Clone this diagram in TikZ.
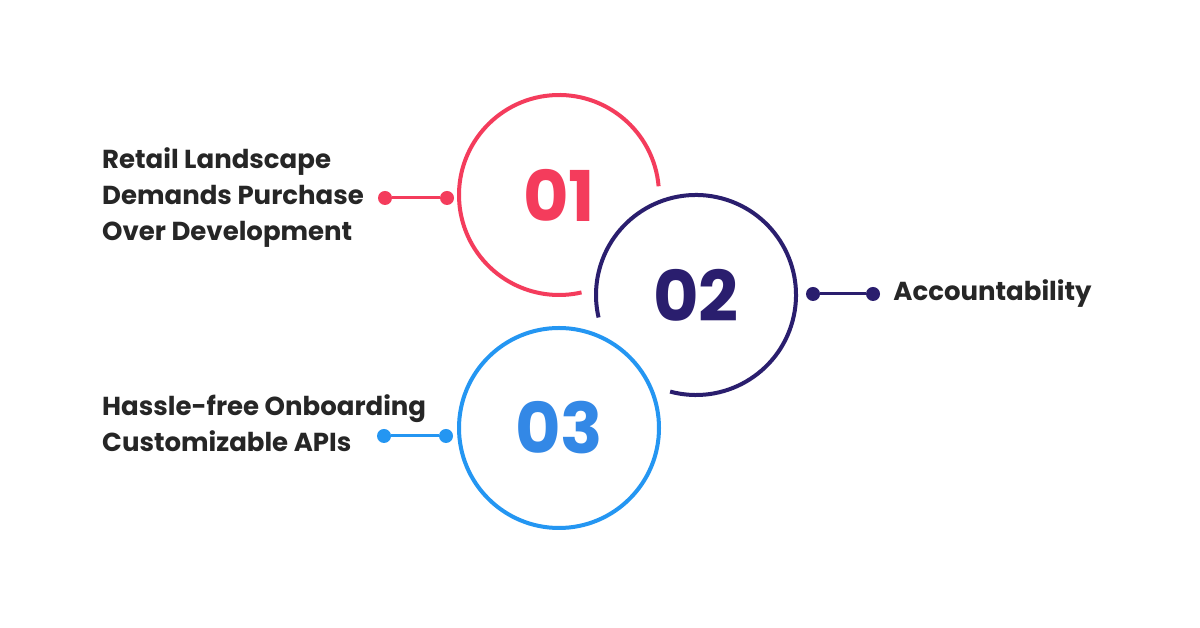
\documentclass[tikz,border=0pt]{standalone}
\usepackage{fontspec}
\setmainfont{Poppins}
\usetikzlibrary{positioning}
\definecolor{retailred}{HTML}{F43C5C}
\definecolor{deepnavy}{HTML}{2A1E6E}
\definecolor{skyblue}{HTML}{2496F2}
\definecolor{numblue}{HTML}{3388E6}
\definecolor{inkgrey}{HTML}{262626}

\tikzset{
  ring/.style={line width=4pt},
  hub/.style={circle, minimum size=200pt, inner sep=0pt, outer sep=0pt},
  bignum/.style={font=\fontsize{70}{70}\selectfont\bfseries},
  itemtext/.style={font=\fontsize{26}{36}\selectfont\bfseries, text=inkgrey, align=left, inner sep=0pt},
  dot/.style={circle, fill=#1, inner sep=0pt, minimum size=14pt},
  link/.style={line width=3pt},
}

\begin{document}
\begin{tikzpicture}[x=1pt, y=1pt]
    \useasboundingbox[fill=white] (0,0) rectangle (1200,628);

    % the three rings
    \node[hub] (c1) at (559,433) {};
    \node[hub] (c2) at (696,333) {};
    \node[hub] (c3) at (559,200) {};
    \draw[ring, retailred] (c1.5) arc[start angle=5, end angle=283, radius=100pt];
    \draw[ring, deepnavy] (c2.-105) arc[start angle=-105, end angle=193, radius=100pt];
    \draw[ring, skyblue] (c3) circle[radius=100pt];

    \node[bignum, text=retailred] (n1) at (c1) {01};
    \node[bignum, text=deepnavy] (n2) at (c2) {02};
    \node[bignum, text=numblue] (n3) at (c3) {03};

    % connectors
    \node[dot=retailred] (r1) at (385,430) {};
    \node[dot=retailred] (r2) at (447,430) {};
    \draw[link, retailred] (r1) -- (r2);
    \node[dot=deepnavy] (d1) at (813,334) {};
    \node[dot=deepnavy] (d2) at (873,334) {};
    \draw[link, deepnavy] (d1) -- (d2);
    \node[dot=skyblue] (b1) at (384,192) {};
    \node[dot=skyblue] (b2) at (446,192) {};
    \draw[link, skyblue] (b1) -- (b2);

    % texts
    \node[itemtext, anchor=west] (t1) at (102,430) {Retail Landscape\\Demands Purchase\\Over Development};
    \node[itemtext, right=13pt of d2] (t2) {Accountability};
    \node[itemtext, anchor=west] (t3) at (102,205) {Hassle-free Onboarding\\Customizable APIs};
\end{tikzpicture}
\end{document}
